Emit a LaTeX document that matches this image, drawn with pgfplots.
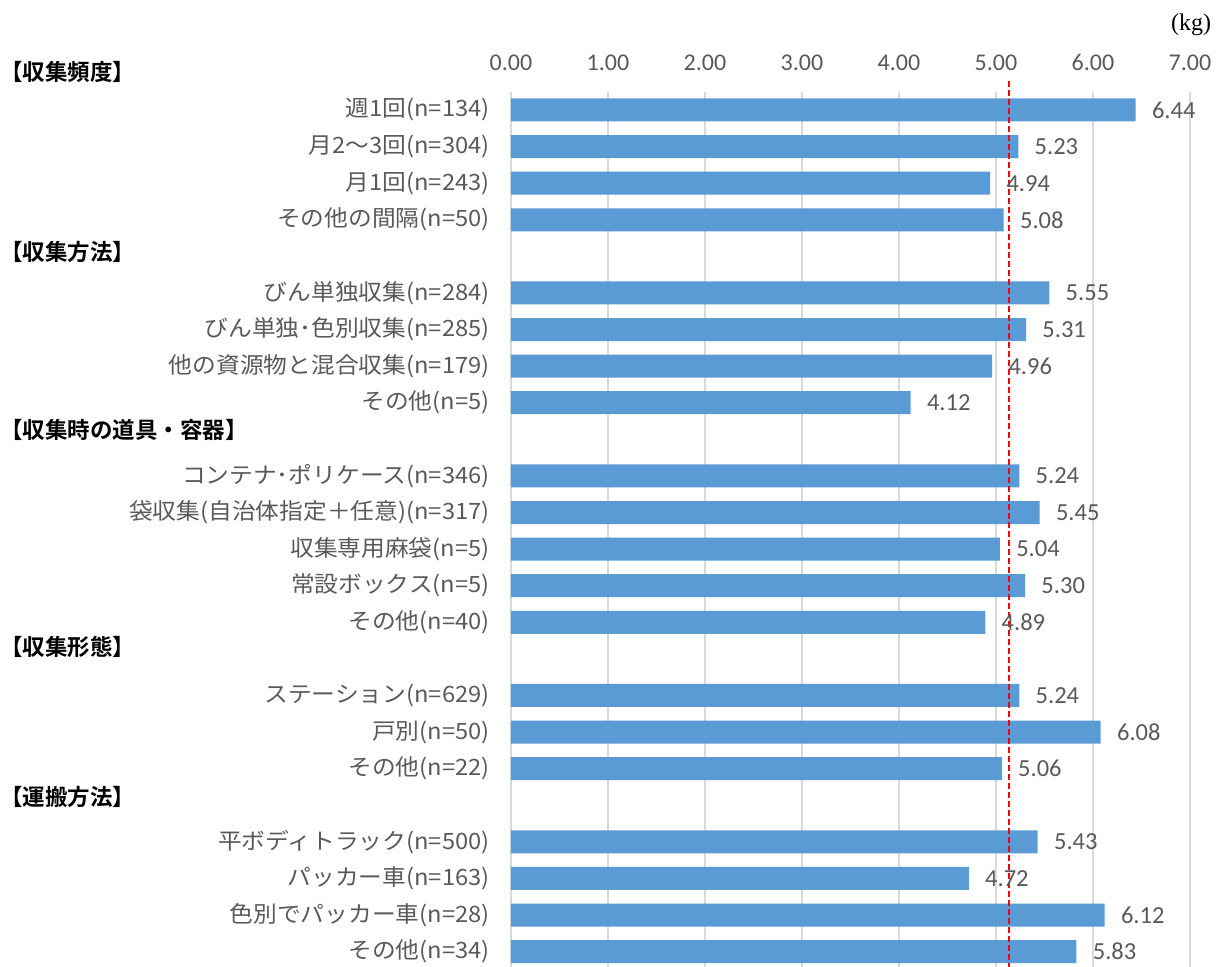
\documentclass[border=0pt]{standalone}
\usepackage{fontspec}
\usepackage{pgfplots}
\pgfplotsset{compat=1.18}
\setmainfont{Carlito}
\newfontfamily\jp{Noto Sans CJK JP}[FakeStretch=1.055]
\newfontfamily\jpb{Noto Sans CJK JP Bold}
\newfontfamily\serif{Liberation Serif}
\definecolor{barblue}{HTML}{5B9BD5}
\definecolor{txtgray}{HTML}{595959}
\definecolor{gridgray}{HTML}{D9D9D9}
\begin{document}
\begin{tikzpicture}
\useasboundingbox (-255.5pt,0pt) rectangle (354.5pt,483.5pt);
\begin{axis}[
  at={(0pt,0pt)}, anchor=south west,
  scale only axis, width=339.5pt, height=437.65pt,
  xmin=0, xmax=7, ymin=-0.5, ymax=23.42,
  y dir=reverse,
  clip=false,
  axis line style={draw=none},
  major tick length=0pt,
  /pgf/number format/assume math mode=true,
  xtick={0,1,...,7},
  xticklabel pos=right,
  xticklabel style={font=\fontsize{12}{14}\selectfont, text=txtgray, inner sep=0pt, yshift=10.5pt,
    /pgf/number format/fixed, /pgf/number format/fixed zerofill, /pgf/number format/precision=2},
  xmajorgrids, grid style={gridgray, line width=1pt},
  ytick={0,1,2,3,5,6,7,8,10,11,12,13,14,16,17,18,20,21,22,23},
  yticklabels={{週1回(n=134)},{月2〜3回(n=304)},{月1回(n=243)},{その他の間隔(n=50)},
    {びん単独収集(n=284)},{びん単独･色別収集(n=285)},{他の資源物と混合収集(n=179)},{その他(n=5)},
    {コンテナ･ポリケース(n=346)},{袋収集(自治体指定＋任意)(n=317)},{収集専用麻袋(n=5)},{常設ボックス(n=5)},{その他(n=40)},
    {ステーション(n=629)},{戸別(n=50)},{その他(n=22)},
    {平ボディトラック(n=500)},{パッカー車(n=163)},{色別でパッカー車(n=28)},{その他(n=34)}},
  yticklabel style={font=\jp\fontsize{11.25}{13}\selectfont, text=txtgray, inner sep=0pt, xshift=-10.5pt},
]
\addplot[xbar, bar width=11.5pt, fill=barblue, draw=none,
  point meta=x,
  nodes near coords={\pgfmathprintnumber[fixed,fixed zerofill,precision=2,assume math mode=true]{\pgfplotspointmeta}},
  nodes near coords style={anchor=west, inner sep=0pt, xshift=8pt, text=txtgray, font=\fontsize{12.25}{14}\selectfont}]
coordinates {(6.44,0) (5.23,1) (4.94,2) (5.08,3)
  (5.55,5) (5.31,6) (4.96,7) (4.12,8)
  (5.24,10) (5.45,11) (5.04,12) (5.30,13) (4.89,14)
  (5.24,16) (6.08,17) (5.06,18)
  (5.43,20) (4.72,21) (6.12,22) (5.83,23)};
\addplot[red, line width=1pt, dash pattern=on 3pt off 1.5pt] coordinates {(5.13,-0.8) (5.13,23.42)};
\node[anchor=west, inner sep=0pt, xshift=-255.5pt, font=\jpb\fontsize{11.25}{13}\selectfont] at (axis cs:0,-1.04) {【収集頻度】};
\node[anchor=west, inner sep=0pt, xshift=-255.5pt, font=\jpb\fontsize{11.25}{13}\selectfont] at (axis cs:0,3.88) {【収集方法】};
\node[anchor=west, inner sep=0pt, xshift=-255.5pt, font=\jpb\fontsize{11.25}{13}\selectfont] at (axis cs:0,8.74) {【収集時の道具・容器】};
\node[anchor=west, inner sep=0pt, xshift=-255.5pt, font=\jpb\fontsize{11.25}{13}\selectfont] at (axis cs:0,14.67) {【収集形態】};
\node[anchor=west, inner sep=0pt, xshift=-255.5pt, font=\jpb\fontsize{11.25}{13}\selectfont] at (axis cs:0,18.77) {【運搬方法】};
\end{axis}
\node[font=\serif\fontsize{12}{14}\selectfont, inner sep=0pt] at (340pt,471pt) {(kg)};
\end{tikzpicture}
\end{document}
